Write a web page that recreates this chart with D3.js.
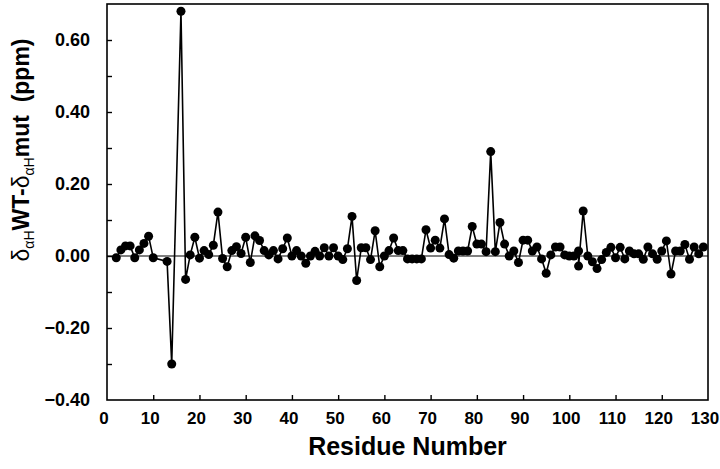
<!DOCTYPE html>
<html>
<head>
<meta charset="utf-8">
<script src="https://cdn.jsdelivr.net/npm/d3@7"></script>
<style>
  body { margin: 0; background: #fff; }
  svg { display: block; }
  text { font-family: "Liberation Sans", Arial, Helvetica, sans-serif; }
</style>
</head>
<body>
<svg id="chart" width="720" height="469"></svg>
<script>
const residues = [2,3,4,5,6,7,8,9,10,13,14,16,17,18,19,20,21,22,23,24,25,26,27,28,29,30,
  31,32,33,34,35,36,37,38,39,40,41,42,43,44,45,46,47,48,49,50,51,52,53,54,55,56,57,58,59,60,
  61,62,63,64,65,66,67,68,69,70,71,72,73,74,75,76,77,78,79,80,81,82,83,84,85,86,87,88,89,90,
  91,92,93,94,95,96,97,98,99,100,101,102,102,103,104,105,106,107,108,109,110,
  111,112,113,114,115,116,117,118,119,120,121,122,123,124,125,126,127,128,129];
const deltas = [-0.005,0.017,0.028,0.028,-0.005,0.017,0.035,0.055,-0.005,-0.015,-0.30,0.68,-0.065,0.003,0.052,-0.006,0.015,0.004,0.03,0.122,-0.007,-0.03,0.015,0.026,0.007,0.052,
  -0.018,0.056,0.043,0.015,0.003,0.015,-0.008,0.02,0.05,0.0,0.015,0.0,-0.02,0.0,0.013,0.0,0.023,0.0,0.023,0.0,-0.01,0.02,0.11,-0.068,0.023,0.023,-0.01,0.07,-0.03,0.0,
  0.015,0.05,0.015,0.015,-0.008,-0.008,-0.008,-0.008,0.073,0.022,0.044,0.022,0.103,0.004,-0.006,0.014,0.014,0.014,0.082,0.033,0.033,0.012,0.29,0.012,0.093,0.033,0.0,0.014,-0.018,0.044,
  0.044,0.014,0.025,-0.008,-0.048,0.003,0.025,0.025,0.003,0.0,0.0,0.014,-0.028,0.125,0.0,-0.016,-0.035,-0.01,0.01,0.024,-0.005,
  0.024,-0.008,0.014,0.006,0.006,-0.009,0.025,0.006,-0.009,0.014,0.042,-0.05,0.014,0.014,0.032,-0.009,0.025,0.006,0.025];
const xTickValues = [0,10,20,30,40,50,60,70,80,90,100,110,120,130];
const yTickLabelValues = [-0.4,-0.2,0.0,0.2,0.4,0.6];
const yTickValues = [-0.3,-0.2,-0.1,0.0,0.1,0.2,0.3,0.4,0.5,0.6];

const svg = d3.select("#chart");
const L = 107, R = 708, T = 4, B = 400;
const x = d3.scaleLinear().domain([0,130]).range([L,R]);
const y = d3.scaleLinear().domain([-0.4,0.7]).range([B,T]);

// frame
svg.append("rect").attr("x",L).attr("y",T).attr("width",R-L).attr("height",B-T)
  .attr("fill","none").attr("stroke","#000").attr("stroke-width",1.6);

// x ticks (inward)
svg.append("g").attr("transform",`translate(0,${B})`)
  .call(d3.axisBottom(x).tickValues(xTickValues.filter(v=>v>0&&v<130)).tickSizeInner(-5).tickSizeOuter(0).tickFormat(""))
  .call(g=>{g.select(".domain").remove(); g.selectAll("line").attr("stroke-width",1.4);});
// x tick labels
svg.append("g").selectAll("text").data(xTickValues).join("text")
  .attr("x",d=>x(d)-3).attr("y",424).attr("text-anchor","middle")
  .attr("font-size",17).attr("font-weight","bold").text(d=>d);

// y ticks (inward)
svg.append("g").attr("transform",`translate(${L},0)`)
  .call(d3.axisLeft(y).tickValues(yTickValues).tickSizeInner(-5).tickSizeOuter(0).tickFormat(""))
  .call(g=>{g.select(".domain").remove(); g.selectAll("line").attr("stroke-width",1.4);});
svg.append("g").selectAll("text").data(yTickLabelValues).join("text")
  .attr("x",90).attr("y",d=>y(d)+6).attr("text-anchor","end")
  .attr("font-size",18).attr("font-weight","bold").text(d=>d3.format(".2f")(d));

// zero line
svg.append("line").attr("x1",L).attr("x2",R).attr("y1",y(0)).attr("y2",y(0))
  .attr("stroke","#000").attr("stroke-width",1.2);

const pts = residues.map((r,i)=>[r,deltas[i]]);
svg.append("path").datum(pts)
  .attr("d",d3.line().x(d=>x(d[0])).y(d=>y(d[1])))
  .attr("fill","none").attr("stroke","#000").attr("stroke-width",1.6);
svg.append("g").selectAll("circle").data(pts).join("circle")
  .attr("cx",d=>x(d[0])).attr("cy",d=>y(d[1])).attr("r",4.5).attr("fill","#000");

// axis titles
svg.append("text").attr("x",(L+R)/2).attr("y",455).attr("text-anchor","middle")
  .attr("font-size",25).attr("font-weight","bold").text("Residue Number");

const yt = svg.append("text").attr("transform","translate(29,150) rotate(-90)")
  .attr("text-anchor","middle").attr("font-size",23).attr("font-weight","bold");
yt.append("tspan").attr("font-weight","normal").text("δ");
yt.append("tspan").attr("font-size",14).attr("font-weight","normal").attr("dy",5).text("αH");
yt.append("tspan").attr("dy",-5).text("WT-");
yt.append("tspan").attr("font-weight","normal").text("δ");
yt.append("tspan").attr("font-size",14).attr("font-weight","normal").attr("dy",5).text("αH");
yt.append("tspan").attr("dy",-5).text("mut\u00a0\u00a0(ppm)");
</script>
</body>
</html>
